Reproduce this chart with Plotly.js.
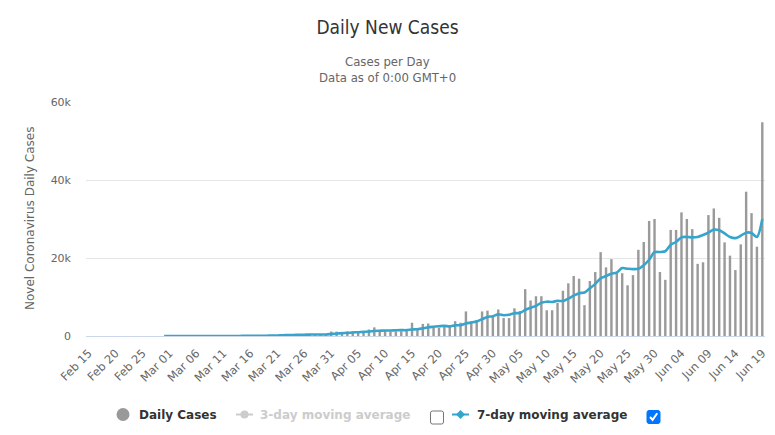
<!DOCTYPE html>
<html>
<head>
<meta charset="utf-8">
<script src="https://cdn.plot.ly/plotly-3.0.1.min.js"></script>
<style>html,body{margin:0;padding:0;background:#fff;}#chart{width:775px;height:435px;}</style>
</head>
<body>
<div id="chart"></div>
<script>
// ---- data ----
const categories = [
 'Feb 15','Feb 16','Feb 17','Feb 18','Feb 19','Feb 20','Feb 21','Feb 22','Feb 23','Feb 24','Feb 25','Feb 26','Feb 27','Feb 28','Feb 29',
 'Mar 01','Mar 02','Mar 03','Mar 04','Mar 05','Mar 06','Mar 07','Mar 08','Mar 09','Mar 10','Mar 11','Mar 12','Mar 13','Mar 14','Mar 15','Mar 16','Mar 17','Mar 18','Mar 19','Mar 20','Mar 21','Mar 22','Mar 23','Mar 24','Mar 25','Mar 26','Mar 27','Mar 28','Mar 29','Mar 30','Mar 31',
 'Apr 01','Apr 02','Apr 03','Apr 04','Apr 05','Apr 06','Apr 07','Apr 08','Apr 09','Apr 10','Apr 11','Apr 12','Apr 13','Apr 14','Apr 15','Apr 16','Apr 17','Apr 18','Apr 19','Apr 20','Apr 21','Apr 22','Apr 23','Apr 24','Apr 25','Apr 26','Apr 27','Apr 28','Apr 29','Apr 30',
 'May 01','May 02','May 03','May 04','May 05','May 06','May 07','May 08','May 09','May 10','May 11','May 12','May 13','May 14','May 15','May 16','May 17','May 18','May 19','May 20','May 21','May 22','May 23','May 24','May 25','May 26','May 27','May 28','May 29','May 30','May 31',
 'Jun 01','Jun 02','Jun 03','Jun 04','Jun 05','Jun 06','Jun 07','Jun 08','Jun 09','Jun 10','Jun 11','Jun 12','Jun 13','Jun 14','Jun 15','Jun 16','Jun 17','Jun 18','Jun 19'
];

const dailyCases = [
 0,0,0,0,0,0,0,0,0,0,0,1,0,0,1,
 0,0,0,2,4,6,6,6,5,9,18,25,21,23,79,34,57,137,193,283,224,418,345,310,232,482,502,487,352,323,1138,
 1119,1074,1146,1222,852,926,1661,2210,1500,1500,1200,1200,1200,1700,3400,1900,3100,3200,2100,2100,2300,2500,3800,3400,6300,3800,4100,6300,6500,5100,
 6800,4600,4600,7100,6400,12000,9100,10200,10200,6600,6600,8500,11600,13500,15400,14700,7900,14100,16400,21500,17600,19700,16500,16100,13000,15600,22100,24100,29500,30000,16400,
 14400,27200,27200,31700,30000,27400,18500,18900,31000,32700,30300,24000,20600,16900,23500,37000,31500,22900,54800
];

const movingAvg7 = [
 null,null,null,null,null,null,null,null,null,null,null,null,null,null,0.3,
 0.3,0.3,0.3,0.4,1,1.9,2.6,3.4,4.1,5.4,7.7,10.7,12.9,15.3,25.7,29.9,36.7,53.7,77.7,115,144,192,237,273,286,328,359,397,387,384,502,
 626,715,800,902,973,1060,1140,1297,1354,1411,1411,1461,1500,1500,1671,1729,1957,2243,2371,2500,2586,2457,2729,2771,3214,3457,3743,4314,4886,5071,
 5557,5314,5429,5857,5871,6657,7229,7714,8514,8800,8729,9029,8971,9600,10343,10986,11171,12243,13371,14786,15371,15986,16243,17414,17257,17143,17229,18157,19557,21486,21529,
 21729,23386,24114,25300,25400,25300,25400,25900,26500,27300,27100,26300,25400,25100,25700,26500,26400,25400,30000
];

const xTickLabels = ['Feb 15','Feb 20','Feb 25','Mar 01','Mar 06','Mar 11','Mar 16','Mar 21','Mar 26','Mar 31','Apr 05','Apr 10','Apr 15','Apr 20','Apr 25','Apr 30','May 05','May 10','May 15','May 20','May 25','May 30','Jun 04','Jun 09','Jun 14','Jun 19'];
const yTickVals = [0, 20000, 40000, 60000];
const yTickText = ['0', '20k', '40k', '60k'];

// ---- geometry helpers (pixel -> paper) ----
const W = 775, H = 435, ML = 86, MR = 10, MT = 102, MB = 99;
const PW = W - ML - MR, PH = H - MT - MB;
const px = x => (x - ML) / PW;
const py = y => (H - MB - y) / PH;

const narrow = '"Liberation Sans Narrow", "DejaVu Sans Condensed", "Arial Narrow", sans-serif';
const base = '"DejaVu Sans", Verdana, sans-serif';

function roundRect(x0, y0, x1, y1, r) {
  const P = (x, y) => px(x) + ',' + py(y);
  return 'M' + P(x0 + r, y0) + ' L' + P(x1 - r, y0) + ' Q' + P(x1, y0) + ' ' + P(x1, y0 + r) +
    ' L' + P(x1, y1 - r) + ' Q' + P(x1, y1) + ' ' + P(x1 - r, y1) +
    ' L' + P(x0 + r, y1) + ' Q' + P(x0, y1) + ' ' + P(x0, y1 - r) +
    ' L' + P(x0, y0 + r) + ' Q' + P(x0, y0) + ' ' + P(x0 + r, y0) + ' Z';
}

const traces = [
  {
    type: 'bar', x: categories, y: dailyCases, name: 'Daily Cases',
    marker: {color: '#9a9a9a', line: {width: 0}}, width: 0.45,
    hoverinfo: 'x+y'
  },
  {
    type: 'scatter', mode: 'lines', x: categories, y: movingAvg7, name: '7-day moving average',
    line: {color: '#36a4cc', width: 2.6, shape: 'spline', smoothing: 0.8},
    connectgaps: false
  }
];

const legY = 414.5;
const shapes = [
  {type: 'circle', xref: 'paper', yref: 'paper', x0: px(116.5), x1: px(129.5), y0: py(legY - 6.5), y1: py(legY + 6.5), fillcolor: '#999999', line: {width: 0}},
  {type: 'line', xref: 'paper', yref: 'paper', x0: px(236), x1: px(253), y0: py(legY), y1: py(legY), line: {color: '#cccccc', width: 2}},
  {type: 'circle', xref: 'paper', yref: 'paper', x0: px(240.5), x1: px(248.5), y0: py(legY - 4), y1: py(legY + 4), fillcolor: '#cccccc', line: {width: 0}},
  {type: 'path', xref: 'paper', yref: 'paper', path: roundRect(430.5, 411, 443.5, 424, 2), fillcolor: '#ffffff', line: {color: '#767676', width: 1}},
  {type: 'line', xref: 'paper', yref: 'paper', x0: px(452), x1: px(469), y0: py(legY), y1: py(legY), line: {color: '#36a4cc', width: 2}},
  {type: 'path', xref: 'paper', yref: 'paper',
    path: 'M' + px(460.5) + ',' + py(legY - 4.5) + ' L' + px(465) + ',' + py(legY) + ' L' + px(460.5) + ',' + py(legY + 4.5) + ' L' + px(456) + ',' + py(legY) + ' Z',
    fillcolor: '#36a4cc', line: {width: 0}},
  {type: 'path', xref: 'paper', yref: 'paper', path: roundRect(647, 410.5, 660, 423.5, 2), fillcolor: '#0075ff', line: {color: '#0075ff', width: 1}},
  {type: 'path', xref: 'paper', yref: 'paper',
    path: 'M' + px(650) + ',' + py(417) + ' L' + px(652.6) + ',' + py(419.8) + ' L' + px(657.2) + ',' + py(413.2),
    line: {color: '#ffffff', width: 2}}
];

const annotations = [
  {text: 'Cases per Day', xref: 'paper', yref: 'paper', x: px(387.5), y: py(61.5), xanchor: 'center', yanchor: 'middle', showarrow: false,
    font: {family: narrow, size: 13, color: '#666666'}},
  {text: 'Data as of 0:00 GMT+0', xref: 'paper', yref: 'paper', x: px(387.5), y: py(77.5), xanchor: 'center', yanchor: 'middle', showarrow: false,
    font: {family: narrow, size: 13, color: '#666666'}},
  {text: 'Novel Coronavirus Daily Cases', xref: 'paper', yref: 'paper', x: px(30), y: 0.5, xanchor: 'center', yanchor: 'middle', textangle: -90, showarrow: false,
    font: {family: base, size: 12, color: '#666666'}},
  {text: '<b>Daily Cases</b>', xref: 'paper', yref: 'paper', x: px(137), y: py(legY), xanchor: 'left', yanchor: 'middle', showarrow: false,
    font: {family: base, size: 12, color: '#333333'}},
  {text: '<b>3-day moving average</b>', xref: 'paper', yref: 'paper', x: px(258), y: py(legY), xanchor: 'left', yanchor: 'middle', showarrow: false,
    font: {family: base, size: 12, color: '#cccccc'}},
  {text: '<b>7-day moving average</b>', xref: 'paper', yref: 'paper', x: px(475), y: py(legY), xanchor: 'left', yanchor: 'middle', showarrow: false,
    font: {family: base, size: 12, color: '#333333'}}
];

const layout = {
  width: W, height: H,
  margin: {l: ML, r: MR, t: MT, b: MB, pad: 0},
  paper_bgcolor: '#ffffff', plot_bgcolor: '#ffffff',
  font: {family: base, size: 11, color: '#666666'},
  title: {text: 'Daily New Cases', font: {family: narrow, size: 19, color: '#333333'},
    x: 0.5, xanchor: 'center', xref: 'container', y: 1 - 27 / H, yanchor: 'middle', yref: 'container'},
  showlegend: false,
  xaxis: {
    type: 'category', range: [-0.5, categories.length - 0.5], autorange: false,
    tickmode: 'array', tickvals: xTickLabels, ticktext: xTickLabels, tickangle: -45,
    showgrid: false, showline: true, linecolor: '#ccd6eb', linewidth: 1,
    ticks: 'outside', ticklen: 5, tickcolor: 'rgba(0,0,0,0)', zeroline: false,
    tickfont: {family: base, size: 11.5, color: '#666666'}, automargin: false
  },
  yaxis: {
    range: [0, 60000], autorange: false, tickmode: 'array', tickvals: yTickVals, ticktext: yTickText,
    showgrid: true, gridcolor: '#e6e6e6', gridwidth: 1, zeroline: false, showline: false, ticks: '',
    ticklabelstandoff: 14, tickfont: {family: base, size: 11, color: '#666666'}, automargin: false
  },
  bargap: 0.5,
  shapes: shapes,
  annotations: annotations
};

Plotly.newPlot('chart', traces, layout, {displayModeBar: false, staticPlot: true});
</script>
</body>
</html>
